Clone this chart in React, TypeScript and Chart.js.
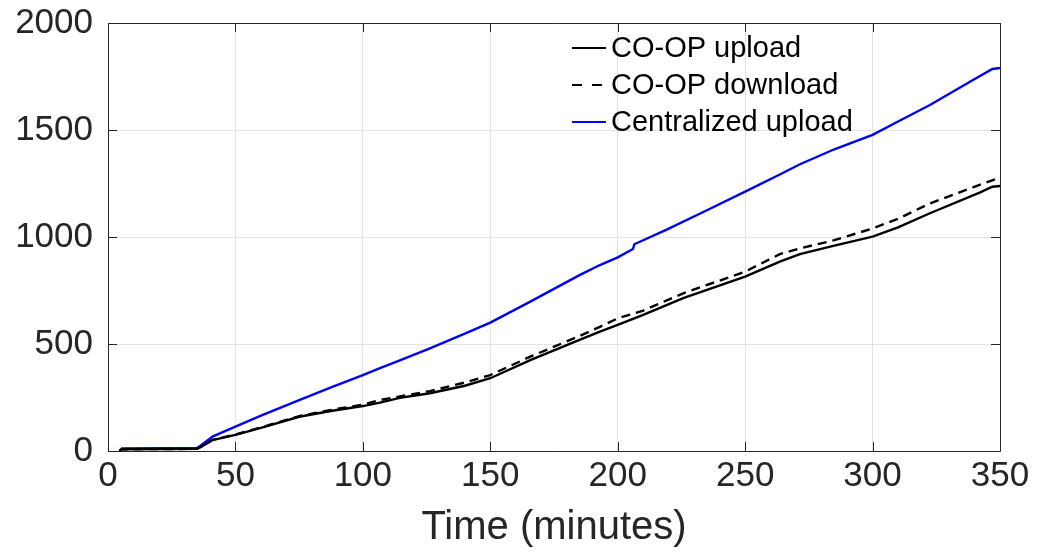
import React, { useEffect, useRef } from "react";
import { Chart, registerables } from "chart.js";

Chart.register(...registerables);

const centralizedX = [4.5, 5.5, 35, 38, 41, 50, 60, 75, 88, 100, 106.7, 114.5, 126.3, 140, 150, 165.7, 185, 193, 200, 206, 206.5, 219, 235, 250, 263.6, 271.5, 285, 300, 310, 322.5, 339.4, 347, 350];
const centralizedY = [0, 12, 14, 40, 67, 114, 165, 238, 300, 355, 387, 423, 480, 548, 600, 698, 822, 869, 905, 944, 966, 1033, 1125, 1212, 1292, 1340, 1410, 1477, 1540, 1617, 1734, 1785, 1790];

const uploadX = [4.5, 5.5, 35, 38, 41, 50, 60, 75, 88, 100, 106.7, 114.5, 126.3, 140, 150, 165.7, 185, 193, 200, 210, 225.7, 250, 263.6, 271.5, 285, 300, 310, 322.5, 342, 347, 350];
const uploadY = [0, 8, 10, 30, 51, 75, 108, 160, 188, 210, 226, 248, 270, 305, 340, 425, 519, 558, 589, 636, 714, 815, 885, 920, 960, 1002, 1045, 1111, 1207, 1235, 1238];

const downloadX = [4.5, 5.5, 35, 38, 41, 50, 60, 75, 88, 100, 106.7, 114.5, 126.3, 140, 150, 165.7, 185, 193, 200, 210, 225.7, 250, 263.6, 271.5, 285, 300, 310, 322.5, 339.4, 350];
const downloadY = [0, 8, 10, 30, 52, 77, 110, 163, 193, 217, 238, 255, 280, 320, 355, 441, 537, 580, 620, 656, 737, 838, 920, 947, 985, 1040, 1085, 1157, 1232, 1278];

const seriesLabels = ["CO-OP upload", "CO-OP download", "Centralized upload"];
const xTitle = "Time (minutes)";

const FONT = "'Liberation Sans', Arial, Helvetica, sans-serif";
const TEXT = "#262626";

const toPoints = (xs: number[], ys: number[]) => xs.map((x, i) => ({ x, y: ys[i] }));

const framePlugin = {
  id: "frame",
  afterDatasetsDraw(chart: any) {
    const { ctx, chartArea } = chart;
    const { left, right, top, bottom } = chartArea;
    const xs = chart.scales.x;
    const ys = chart.scales.y;
    ctx.save();
    ctx.strokeStyle = TEXT;
    ctx.lineWidth = 1;
    ctx.beginPath();
    ctx.rect(Math.round(left) + 0.5, Math.round(top) + 0.5, Math.round(right - left), Math.round(bottom - top));
    ctx.stroke();
    const tl = 9;
    ctx.beginPath();
    xs.ticks.forEach((t: any) => {
      const px = Math.round(xs.getPixelForValue(t.value)) + 0.5;
      ctx.moveTo(px, bottom);
      ctx.lineTo(px, bottom - tl);
      ctx.moveTo(px, top);
      ctx.lineTo(px, top + tl);
    });
    ys.ticks.forEach((t: any) => {
      const py = Math.round(ys.getPixelForValue(t.value)) + 0.5;
      ctx.moveTo(left, py);
      ctx.lineTo(left + tl, py);
      ctx.moveTo(right, py);
      ctx.lineTo(right - tl, py);
    });
    ctx.stroke();
    ctx.restore();
  },
};

const legendPlugin = {
  id: "customLegend",
  afterDraw(chart: any) {
    const { ctx } = chart;
    const rows = [
      { label: seriesLabels[0], color: "#000000", dash: [] as number[] },
      { label: seriesLabels[1], color: "#000000", dash: [10, 10] },
      { label: seriesLabels[2], color: "#0000ff", dash: [] as number[] },
    ];
    ctx.save();
    ctx.font = `29px ${FONT}`;
    ctx.textBaseline = "middle";
    ctx.textAlign = "left";
    rows.forEach((r, i) => {
      const y = 48 + i * 37;
      ctx.strokeStyle = r.color;
      ctx.lineWidth = 2;
      ctx.setLineDash(r.dash);
      ctx.beginPath();
      ctx.moveTo(572, y);
      ctx.lineTo(606, y);
      ctx.stroke();
      ctx.setLineDash([]);
      ctx.fillStyle = "#000000";
      ctx.fillText(r.label, 611, y + 1);
    });
    ctx.restore();
  },
};

export default function App() {
  const ref = useRef<HTMLCanvasElement | null>(null);

  useEffect(() => {
    document.body.style.margin = "0";
    const canvas = ref.current;
    if (!canvas) return;
    const chart = new Chart(canvas, {
      type: "line",
      data: {
        datasets: [
          {
            label: seriesLabels[0],
            data: toPoints(uploadX, uploadY),
            borderColor: "#000000",
            borderWidth: 2.4,
            pointRadius: 0,
            tension: 0,
          },
          {
            label: seriesLabels[1],
            data: toPoints(downloadX, downloadY),
            borderColor: "#000000",
            borderWidth: 2.4,
            borderDash: [9, 6],
            pointRadius: 0,
            tension: 0,
          },
          {
            label: seriesLabels[2],
            data: toPoints(centralizedX, centralizedY),
            borderColor: "#0000ff",
            borderWidth: 2.4,
            pointRadius: 0,
            tension: 0,
          },
        ],
      },
      options: {
        animation: false,
        responsive: false,
        maintainAspectRatio: false,
        layout: { padding: { top: 23, right: 37, left: 0, bottom: 0 } },
        plugins: {
          legend: { display: false },
          tooltip: { enabled: false },
        },
        scales: {
          x: {
            type: "linear",
            min: 0,
            max: 350,
            ticks: {
              stepSize: 50,
              color: TEXT,
              font: { family: FONT, size: 35 },
              padding: 4,
              maxRotation: 0,
              callback: (v: any) => String(v),
            },
            grid: { color: "#e3e3e3", lineWidth: 1, drawTicks: false },
            border: { display: false },
            title: {
              display: true,
              text: xTitle,
              color: TEXT,
              font: { family: FONT, size: 40 },
              padding: { top: 0, bottom: 7 },
            },
            afterFit: (s: any) => {
              s.height = 108;
              s.paddingLeft = 0;
              s.paddingRight = 0;
            },
          },
          y: {
            type: "linear",
            min: 0,
            max: 2000,
            ticks: {
              stepSize: 500,
              color: TEXT,
              font: { family: FONT, size: 35 },
              padding: 15,
              callback: (v: any) => String(v),
            },
            grid: { color: "#e3e3e3", lineWidth: 1, drawTicks: false },
            border: { display: false },
            afterFit: (s: any) => {
              s.width = 108;
              s.paddingTop = 0;
              s.paddingBottom = 0;
            },
          },
        },
      },
      plugins: [framePlugin, legendPlugin],
    });
    return () => chart.destroy();
  }, []);

  return (
    <div style={{ width: 1037, height: 559, background: "#ffffff" }}>
      <canvas ref={ref} width={1037} height={559} style={{ display: "block" }} />
    </div>
  );
}
